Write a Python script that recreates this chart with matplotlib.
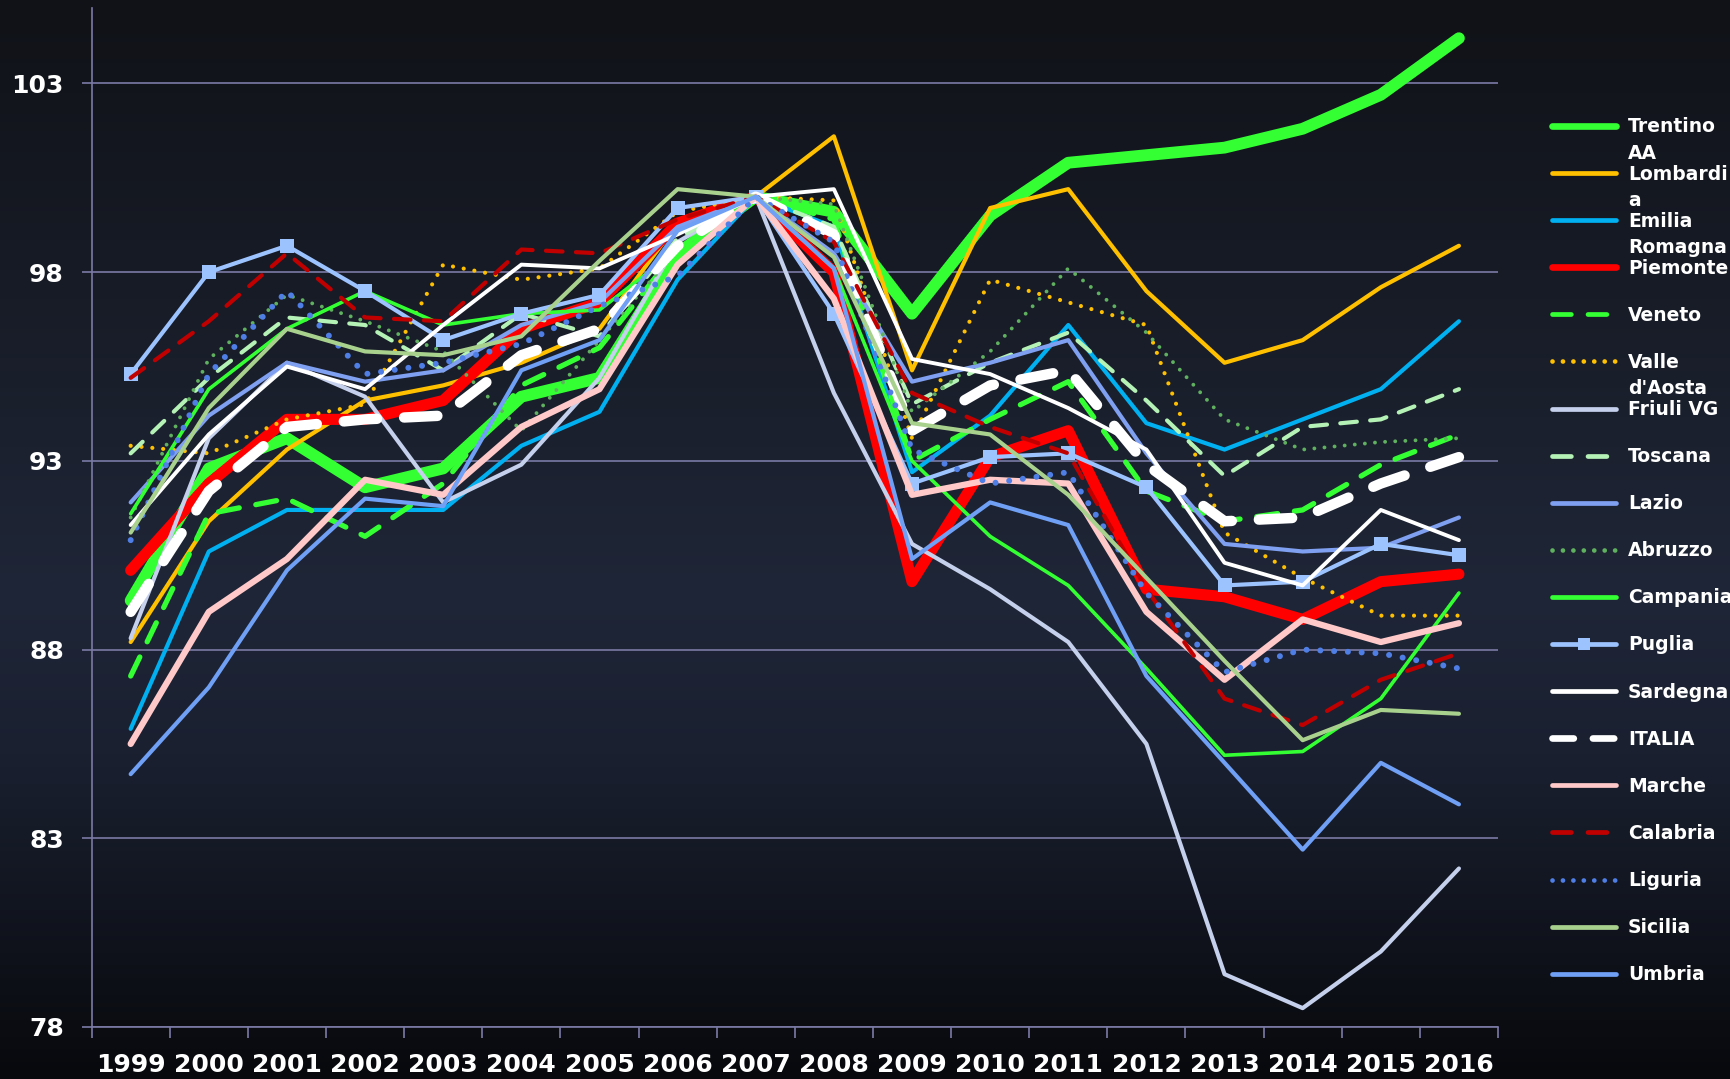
import numpy as np
import matplotlib
matplotlib.use('Agg')
import matplotlib.pyplot as plt
from matplotlib.colors import LinearSegmentedColormap
from matplotlib.lines import Line2D

years = [str(y) for y in range(1999, 2017)]
yticks = [78, 83, 88, 93, 98, 103]

# index 2007 = 100
trentino = [89.3, 92.8, 93.6, 92.3, 92.8, 94.7, 95.2, 98.5, 100, 99.6, 96.9, 99.5, 100.9, 101.1, 101.3, 101.8, 102.7, 104.2]
lombardia = [88.2, 91.4, 93.3, 94.6, 95.0, 95.6, 96.5, 99.3, 100, 101.6, 95.4, 99.7, 100.2, 97.5, 95.6, 96.2, 97.6, 98.7]
emilia = [85.9, 90.6, 91.7, 91.7, 91.7, 93.4, 94.3, 97.8, 100, 99.2, 92.7, 94.2, 96.6, 94.0, 93.3, 94.1, 94.9, 96.7]
piemonte = [90.1, 92.4, 94.1, 94.1, 94.6, 96.5, 97.2, 99.3, 100, 98.0, 89.8, 93.1, 93.8, 89.6, 89.4, 88.8, 89.8, 90.0]
veneto = [87.3, 91.6, 92.0, 91.0, 92.4, 95.0, 96.0, 98.6, 100, 99.4, 93.0, 94.1, 95.1, 92.2, 91.4, 91.7, 92.9, 93.7]
valle = [93.4, 93.2, 94.1, 94.5, 98.2, 97.8, 98.1, 99.6, 100, 99.9, 93.6, 97.8, 97.2, 96.6, 91.1, 89.9, 88.9, 88.9]
friuli = [88.3, 93.6, 95.6, 94.7, 91.9, 92.9, 95.2, 98.8, 100, 94.8, 90.8, 89.6, 88.2, 85.5, 79.4, 78.5, 80.0, 82.2]
toscana = [93.2, 95.2, 96.8, 96.6, 95.4, 96.9, 96.3, 98.9, 100, 99.2, 94.5, 95.6, 96.4, 94.6, 92.6, 93.9, 94.1, 94.9]
lazio = [91.9, 94.2, 95.6, 95.1, 95.4, 96.6, 97.2, 99.2, 100, 98.5, 95.1, 95.6, 96.2, 93.2, 90.8, 90.6, 90.7, 91.5]
abruzzo = [91.5, 95.7, 97.4, 96.7, 95.9, 93.8, 96.2, 98.6, 100, 99.8, 94.3, 95.9, 98.1, 96.4, 94.1, 93.3, 93.5, 93.6]
campania = [91.6, 94.9, 96.5, 97.5, 96.6, 96.9, 97.0, 98.6, 100, 98.1, 93.0, 91.0, 89.7, 87.5, 85.2, 85.3, 86.7, 89.5]
puglia = [95.3, 98.0, 98.7, 97.5, 96.2, 96.9, 97.4, 99.7, 100, 96.9, 92.4, 93.1, 93.2, 92.3, 89.7, 89.8, 90.8, 90.5]
sardegna = [91.3, 93.7, 95.5, 94.9, 96.6, 98.2, 98.1, 99.0, 100, 100.2, 95.7, 95.3, 94.4, 93.3, 90.3, 89.7, 91.7, 90.9]
italia = [89.0, 92.2, 93.9, 94.1, 94.2, 95.8, 96.5, 98.7, 100, 99.0, 93.8, 95.0, 95.4, 92.9, 91.4, 91.5, 92.4, 93.1]
marche = [85.5, 89.0, 90.4, 92.5, 92.1, 93.9, 94.9, 98.2, 100, 97.3, 92.1, 92.5, 92.4, 89.0, 87.2, 88.8, 88.2, 88.7]
calabria = [95.2, 96.7, 98.5, 96.8, 96.7, 98.6, 98.5, 99.4, 100, 98.8, 94.8, 93.9, 93.2, 89.6, 86.7, 86.0, 87.2, 87.9]
liguria = [90.9, 95.3, 97.5, 95.3, 95.6, 96.1, 97.1, 97.9, 100, 98.8, 93.3, 92.4, 92.7, 89.5, 87.4, 88.0, 87.9, 87.5]
sicilia = [91.1, 94.4, 96.5, 95.9, 95.8, 96.3, 98.3, 100.2, 100, 98.4, 94.0, 93.7, 92.1, 89.9, 87.7, 85.6, 86.4, 86.3]
umbria = [84.7, 87.0, 90.1, 92.0, 91.8, 95.4, 96.2, 99.1, 100, 98.1, 90.4, 91.9, 91.3, 87.3, 85.0, 82.7, 85.0, 83.9]

labels = ['Trentino\nAA', 'Lombardi\na', 'Emilia\nRomagna', 'Piemonte', 'Veneto',
          'Valle\nd\'Aosta', 'Friuli VG', 'Toscana', 'Lazio', 'Abruzzo', 'Campania',
          'Puglia', 'Sardegna', 'ITALIA', 'Marche', 'Calabria', 'Liguria', 'Sicilia', 'Umbria']
series = [trentino, lombardia, emilia, piemonte, veneto, valle, friuli, toscana, lazio,
          abruzzo, campania, puglia, sardegna, italia, marche, calabria, liguria, sicilia, umbria]

DOT = (0.01, 2.6)
styles = [
    dict(color='#33ff33', lw=8.5),
    dict(color='#ffc000', lw=3),
    dict(color='#00b0f0', lw=3),
    dict(color='#ff0000', lw=8),
    dict(color='#33ff33', lw=3.8, dashes=(4, 3.2)),
    dict(color='#ffc000', lw=3, dashes=DOT),
    dict(color='#c5d0ec', lw=3),
    dict(color='#b5f2b5', lw=3, dashes=(4, 3.2)),
    dict(color='#7f9ff0', lw=3),
    dict(color='#5fb05f', lw=2.8, dashes=DOT),
    dict(color='#33ff33', lw=2.6),
    dict(color='#9dc3ff', lw=3, marker='s', ms=10),
    dict(color='#ffffff', lw=2.8),
    dict(color='#ffffff', lw=7.5, dashes=(3.2, 2.6)),
    dict(color='#ffc9c9', lw=4.5),
    dict(color='#c00000', lw=3, dashes=(4, 3.2)),
    dict(color='#4f7fe6', lw=4.3, dashes=(0.01, 2.3)),
    dict(color='#a9d18e', lw=3),
    dict(color='#6fa0f5', lw=3),
]

gridc = '#7b7aa6'
W, H = 1731, 1079
fig = plt.figure(figsize=(W / 100, H / 100), dpi=100)

# background gradient
bg = fig.add_axes([0, 0, 1, 1], zorder=-5)
cmap = LinearSegmentedColormap.from_list('bg', [(0, '#101217'), (0.55, '#1f2637'),
                                                 (0.7, '#1a2030'), (1, '#08090d')])
bg.imshow(np.linspace(0, 1, 256).reshape(-1, 1), aspect='auto', cmap=cmap,
          extent=[0, 1, 0, 1])
bg.axis('off')

ax = fig.add_axes([91.6 / W, 52 / H, (1498 - 91.6) / W, 1019 / H])
ax.set_facecolor('none')
x = np.arange(len(years))

for vals, st in zip(series, styles):
    st = dict(st)
    kw = dict(color=st.pop('color'), lw=st.pop('lw'), solid_capstyle='round',
              solid_joinstyle='round', dash_capstyle='round', dash_joinstyle='round')
    if 'dashes' in st:
        kw['dashes'] = st.pop('dashes')
    if 'marker' in st:
        kw['marker'] = st.pop('marker')
        kw['markersize'] = st.pop('ms')
        kw['markeredgewidth'] = 0
    ax.plot(x, vals, **kw)

ax.set_xlim(-0.5, 17.5)
ax.set_ylim(78, 105)
ax.set_xticks(x)
ax.set_xticklabels(years)
ax.set_xticks(np.arange(-0.5, 18, 1), minor=True)
ax.set_yticks(yticks)
ax.tick_params(axis='x', which='major', length=0, pad=19, labelsize=18, labelcolor='white')
ax.tick_params(axis='x', which='minor', length=8, width=1.2, color=gridc, direction='out')
ax.tick_params(axis='y', length=7, width=1.2, color=gridc, pad=13, labelsize=18,
               labelcolor='white')
for lbl in ax.get_xticklabels() + ax.get_yticklabels():
    lbl.set_fontweight('bold')
ax.yaxis.grid(True, color=gridc, lw=1.2)
ax.set_axisbelow(True)
for s in ['top', 'right']:
    ax.spines[s].set_visible(False)
for s in ['left', 'bottom']:
    ax.spines[s].set_color(gridc)
    ax.spines[s].set_linewidth(1.2)

# legend drawn by hand (wrapped labels keep first line next to the handle)
for i, (lab, st) in enumerate(zip(labels, styles)):
    ypx = 125.9 + 47.1 * i
    yf = 1 - ypx / H
    lw = 4.8 if st['lw'] > 6 else 3.4
    kw = dict(color=st['color'], lw=lw, solid_capstyle='round', dash_capstyle='round')
    if 'dashes' in st:
        d = st['dashes']
        kw['dashes'] = (d[0], d[1] * 1.1) if d[0] > 1 else (0.01, 2.2)
    line = Line2D([1552 / W, 1616 / W], [yf, yf], transform=fig.transFigure, **kw)
    fig.add_artist(line)
    if 'marker' in st:
        fig.add_artist(Line2D([1584 / W], [yf], transform=fig.transFigure, marker='s',
                              ms=8, color=st['color'], markeredgewidth=0))
    for k, part in enumerate(lab.split('\n')):
        fig.text(1628 / W, 1 - (ypx + 6.5 + 26.5 * k) / H, part, color='white',
                 fontsize=13.5, fontweight='bold', va='baseline', ha='left')

fig.savefig('out.png', dpi=100)
